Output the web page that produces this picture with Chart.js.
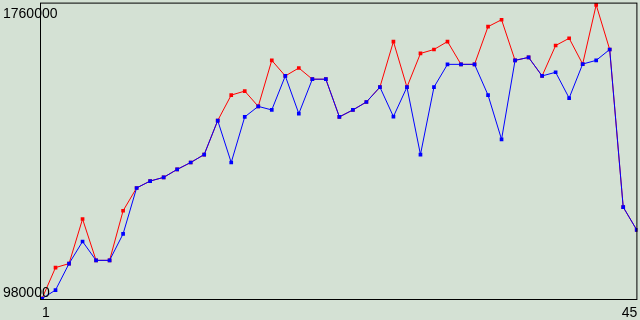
<!DOCTYPE html>
<html>
<head>
<meta charset="utf-8">
<script src="https://cdn.jsdelivr.net/npm/chart.js@4"></script>
<style>
html,body{margin:0;padding:0;background:rgb(212,225,212);}
#wrap{width:640px;height:320px;position:relative;}
</style>
</head>
<body>
<div id="wrap"><canvas id="c" width="640" height="320"></canvas></div>
<script>
const categories = [1,2,3,4,5,6,7,8,9,10,11,12,13,14,15,16,17,18,19,20,21,22,23,24,25,26,27,28,29,30,31,32,33,34,35,36,37,38,39,40,41,42,43,44,45];
const blueValues = [981000,1003500,1073100,1131300,1081700,1081700,1151400,1272200,1290400,1300100,1321000,1339200,1360100,1449600,1339200,1459200,1486900,1477500,1567000,1467800,1558400,1558400,1459200,1477500,1498400,1537500,1460000,1537500,1360100,1537500,1597500,1597500,1597500,1516600,1400000,1608000,1615800,1567000,1576700,1508800,1598300,1608000,1636600,1221800,1161800];
const redValues = [981000,1062700,1073100,1190500,1081700,1081700,1212200,1272200,1290400,1300100,1321000,1339200,1360100,1449600,1516600,1527100,1486900,1608000,1567000,1587900,1558400,1558400,1459200,1477500,1498400,1537500,1657500,1537500,1626200,1636600,1657500,1597500,1597500,1696700,1714900,1608000,1615800,1567000,1647100,1666100,1598300,1754000,1636600,1221800,1161800];
const yTickLabels = ['980000','1760000'];
const xTickLabels = ['1','45'];
const yMin = 980000, yMax = 1760000;

function pts(vals){ return categories.map((c,i)=>({x:c,y:vals[i]})); }

const frame = {
  id:'frame',
  afterDatasetsDraw(chart){
    const {ctx, chartArea:a, scales:{x,y}} = chart;
    ctx.save();
    ctx.strokeStyle = '#000';
    ctx.lineWidth = 1;
    ctx.strokeRect(a.left+0.5, a.top+0.5, a.right-a.left-1, a.bottom-a.top);
    ctx.fillStyle = '#000';
    ctx.font = '14px "Liberation Sans", Arial, sans-serif';
    ctx.textBaseline = 'alphabetic';
    ctx.textAlign = 'left';
    ctx.fillText(yTickLabels[1], 3, y.getPixelForValue(yMax)+15);
    ctx.fillText(yTickLabels[0], 3, y.getPixelForValue(yMin)-2);
    ctx.fillText(xTickLabels[0], x.getPixelForValue(categories[0]), a.bottom+18);
    ctx.textAlign = 'right';
    ctx.fillText(xTickLabels[1], a.right, a.bottom+18);
    ctx.restore();
  }
};

new Chart(document.getElementById('c'), {
  type:'line',
  data:{
    datasets:[
      {data:pts(redValues), borderColor:'#ff0000', backgroundColor:'#ff0000', borderWidth:1, pointStyle:'rect', pointRadius:2.6, pointBorderWidth:0, pointHoverRadius:0, tension:0, order:2},
      {data:pts(blueValues), borderColor:'#0000ff', backgroundColor:'#0000ff', borderWidth:1, pointStyle:'rect', pointRadius:2.6, pointBorderWidth:0, pointHoverRadius:0, tension:0, order:1}
    ]
  },
  options:{
    responsive:false,
    animation:false,
    events:[],
    layout:{padding:{left:40,right:0,top:0,bottom:21}},
    plugins:{legend:{display:false},tooltip:{enabled:false}},
    scales:{
      x:{type:'linear', display:false, min:0.852, max:45.05},
      y:{type:'linear', display:false, min:yMin, max:yMax}
    }
  },
  plugins:[frame]
});
</script>
</body>
</html>
